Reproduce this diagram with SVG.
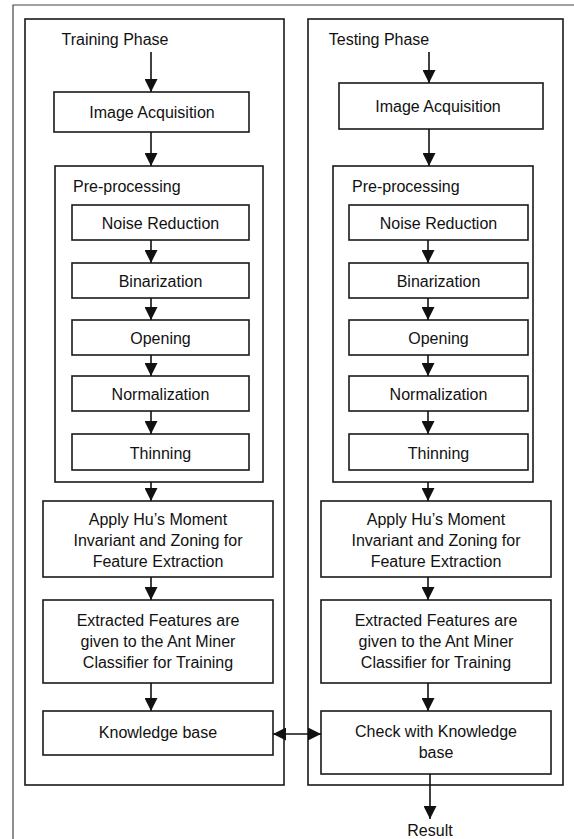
<svg xmlns="http://www.w3.org/2000/svg" width="574" height="839" viewBox="0 0 574 839">
<style>
.box{fill:#fff;stroke:#1a1a1a;stroke-width:1.6}
.grp{fill:none;stroke:#1a1a1a;stroke-width:1.6}
.frame{fill:none;stroke:#444;stroke-width:1.2}
.t{font-family:"Liberation Sans",Arial,sans-serif;font-size:16px;fill:#111;text-anchor:middle}
.tl{font-family:"Liberation Sans",Arial,sans-serif;font-size:16px;fill:#111}
.c{stroke:#111;stroke-width:1.6;fill:none}
</style>
<defs>
<marker id="ah" markerUnits="userSpaceOnUse" markerWidth="13" markerHeight="13" refX="13" refY="6.5" orient="auto-start-reverse">
<path d="M0,0 L13,6.5 L0,13 z" fill="#111"/>
</marker>
</defs>
<rect width="574" height="839" fill="#fff"/>
<path class="frame" d="M13,839 V5 H574"/>
<g id="training-panel">
<rect class="grp" x="25" y="19" width="259" height="766"/>
<text class="t" x="115" y="45">Training Phase</text>
</g>
<g id="testing-panel">
<rect class="grp" x="308" y="19" width="255" height="766"/>
<text class="t" x="379" y="45">Testing Phase</text>
</g>
<g id="l-acq"><rect class="box" x="54" y="92" width="195" height="40"/><text class="t" x="152" y="118">Image Acquisition</text></g>
<g id="l-pre"><rect class="grp" x="55" y="166" width="208" height="316"/><text class="tl" x="73" y="192">Pre-processing</text></g>
<g id="l-noise"><rect class="box" x="72" y="205" width="177" height="35"/><text class="t" x="160.5" y="229">Noise Reduction</text></g>
<g id="l-bin"><rect class="box" x="72" y="263" width="177" height="35"/><text class="t" x="160.5" y="287">Binarization</text></g>
<g id="l-open"><rect class="box" x="72" y="320" width="177" height="35"/><text class="t" x="160.5" y="344">Opening</text></g>
<g id="l-norm"><rect class="box" x="72" y="376" width="177" height="35"/><text class="t" x="160.5" y="400">Normalization</text></g>
<g id="l-thin"><rect class="box" x="72" y="434" width="177" height="36"/><text class="t" x="160.5" y="459">Thinning</text></g>
<g id="l-hu"><rect class="box" x="43" y="501" width="230" height="76"/><text class="t" x="158" y="525">Apply Hu’s Moment</text><text class="t" x="158" y="546">Invariant and Zoning for</text><text class="t" x="158" y="567">Feature Extraction</text></g>
<g id="l-ext"><rect class="box" x="43" y="600" width="230" height="83"/><text class="t" x="158" y="626">Extracted Features are</text><text class="t" x="158" y="647">given to the Ant Miner</text><text class="t" x="158" y="668">Classifier for Training</text></g>
<g id="l-kb"><rect class="box" x="43" y="711" width="230" height="44"/><text class="t" x="158" y="738">Knowledge base</text></g>
<g id="r-acq"><rect class="box" x="339" y="83" width="204" height="46"/><text class="t" x="438" y="112">Image Acquisition</text></g>
<g id="r-pre"><rect class="grp" x="333" y="166" width="200" height="316"/><text class="tl" x="352" y="192">Pre-processing</text></g>
<g id="r-noise"><rect class="box" x="349" y="205" width="179" height="35"/><text class="t" x="438.5" y="229">Noise Reduction</text></g>
<g id="r-bin"><rect class="box" x="349" y="263" width="179" height="35"/><text class="t" x="438.5" y="287">Binarization</text></g>
<g id="r-open"><rect class="box" x="349" y="320" width="179" height="35"/><text class="t" x="438.5" y="344">Opening</text></g>
<g id="r-norm"><rect class="box" x="349" y="376" width="179" height="35"/><text class="t" x="438.5" y="400">Normalization</text></g>
<g id="r-thin"><rect class="box" x="349" y="434" width="179" height="36"/><text class="t" x="438.5" y="459">Thinning</text></g>
<g id="r-hu"><rect class="box" x="321" y="501" width="230" height="76"/><text class="t" x="436" y="525">Apply Hu’s Moment</text><text class="t" x="436" y="546">Invariant and Zoning for</text><text class="t" x="436" y="567">Feature Extraction</text></g>
<g id="r-ext"><rect class="box" x="321" y="600" width="230" height="83"/><text class="t" x="436" y="626">Extracted Features are</text><text class="t" x="436" y="647">given to the Ant Miner</text><text class="t" x="436" y="668">Classifier for Training</text></g>
<g id="r-chk"><rect class="box" x="321" y="711" width="230" height="63"/><text class="t" x="436" y="737">Check with Knowledge</text><text class="t" x="436" y="758">base</text></g>
<g id="result"><text class="t" x="430" y="836">Result</text></g>
<g id="connectors">
<path class="c" marker-end="url(#ah)" d="M151,52 V92"/>
<path class="c" marker-end="url(#ah)" d="M151,132 V166"/>
<path class="c" marker-end="url(#ah)" d="M151,240 V263"/>
<path class="c" marker-end="url(#ah)" d="M151,298 V320"/>
<path class="c" marker-end="url(#ah)" d="M151,355 V376"/>
<path class="c" marker-end="url(#ah)" d="M151,411 V434"/>
<path class="c" marker-end="url(#ah)" d="M151,482 V501"/>
<path class="c" marker-end="url(#ah)" d="M151,577 V600"/>
<path class="c" marker-end="url(#ah)" d="M151,683 V711"/>
<path class="c" marker-end="url(#ah)" d="M429,52 V83"/>
<path class="c" marker-end="url(#ah)" d="M429,129 V166"/>
<path class="c" marker-end="url(#ah)" d="M428,240 V263"/>
<path class="c" marker-end="url(#ah)" d="M428,298 V320"/>
<path class="c" marker-end="url(#ah)" d="M428,355 V376"/>
<path class="c" marker-end="url(#ah)" d="M428,411 V434"/>
<path class="c" marker-end="url(#ah)" d="M428,482 V501"/>
<path class="c" marker-end="url(#ah)" d="M428,577 V600"/>
<path class="c" marker-end="url(#ah)" d="M428,683 V711"/>
<path class="c" marker-start="url(#ah)" marker-end="url(#ah)" d="M273,734 H321"/>
<path class="c" marker-end="url(#ah)" d="M430,774 V819"/>
</g>
</svg>
